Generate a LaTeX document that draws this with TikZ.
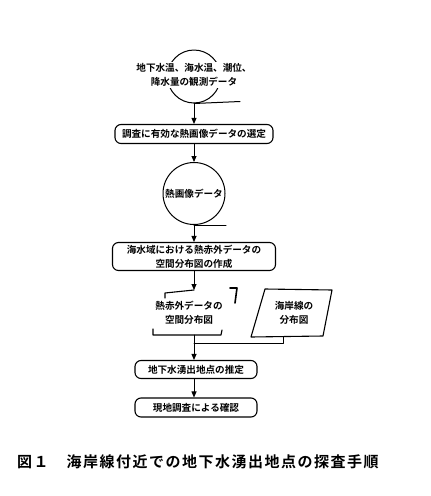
\documentclass[tikz,border=0pt]{standalone}
\usepackage{fontspec}
\setmainfont{Noto Sans CJK JP}[BoldFont={Noto Sans CJK JP Bold}]
\usetikzlibrary{arrows.meta,positioning}
\tikzset{
  txt/.style={font=\bfseries\fontsize{9.6}{14}\selectfont,align=center,inner sep=1pt},
  proc/.style={txt,draw,line width=1.1pt,rounded corners=6pt},
  tape/.style={txt,draw,circle,line width=1pt},
  flow/.style={-{Triangle[width=5pt,length=6pt]},line width=.9pt}
}
\begin{document}
\begin{tikzpicture}[x=1pt,y=-1pt,line join=round,line cap=round]
        \def\ax{194}
        \useasboundingbox (0,0) rectangle (431,496);
        \node[tape,minimum size=53pt] (obs) at (\ax,76.5) {};
        \draw[line width=1pt] (obs.south) -- ++(46,-2);
        \node[txt,fill=white] (obstxt) at (\ax,75) {地下水温、海水温、潮位、\\降水量の観測データ};
        \node[proc,minimum width=158pt,minimum height=19pt] (sel) at (\ax,134) {調査に有効な熱画像データの選定};
        \node[tape,minimum size=62pt] (img) at (\ax,193.5) {熱画像データ};
        \draw[line width=1pt] (img.south) -- ++(32,0);
        \node[proc,minimum width=163pt,minimum height=28pt] (map) at (\ax,256.5) {海水域における熱赤外データの\\空間分布図の作成};
        % broken frame and parallelogram
        \node[txt] (dist) at (189,313) {熱赤外データの\\空間分布図};
        \coordinate (disttop) at (\ax,290);
        \coordinate (distfoot) at (\ax,335);
        \draw[line width=1.1pt] (165,298) -- (165,293) -- (disttop);
        \draw[line width=1.6pt] (230,288) -- (237,288) -- (235,303);
        \draw[line width=1.1pt] (153,329) -- (153,335) -- (221,335) -- (222,330);
        \node[txt] (coast) at (294,313) {海岸線の\\分布図};
        \draw[line width=1.1pt] (265,289) -- (332,290) -- (323,336) -- (251,337) -- cycle;
        \coordinate (coastfoot) at (283,336.5);
        \coordinate (join) at (\ax,343);
        \node[proc,minimum width=122pt,minimum height=18pt] (est) at (196,369.5) {地下水湧出地点の推定};
        \node[proc,minimum width=122pt,minimum height=19pt] (chk) at (196,407.5) {現地調査による確認};
        \draw[flow] (obs.south) -- (sel.north);
        \draw[flow] (sel.south) -- (img.north);
        \draw[flow] (img.south) -- (map.south |- map.north);
        \draw[flow] (map.south) -- (disttop);
        \draw[flow] (distfoot) -- (distfoot |- est.north);
        \draw[line width=.9pt] (coastfoot) |- (join);
        \draw[flow] (est.south -| \ax,0) -- (chk.north -| \ax,0);
        \node[font=\bfseries\fontsize{15}{18}\selectfont,anchor=west,inner sep=0pt] (cap) at (17,462)
          {\addfontfeatures{LetterSpace=10}図１　海岸線付近での地下水湧出地点の探査手順};
\end{tikzpicture}
\end{document}
